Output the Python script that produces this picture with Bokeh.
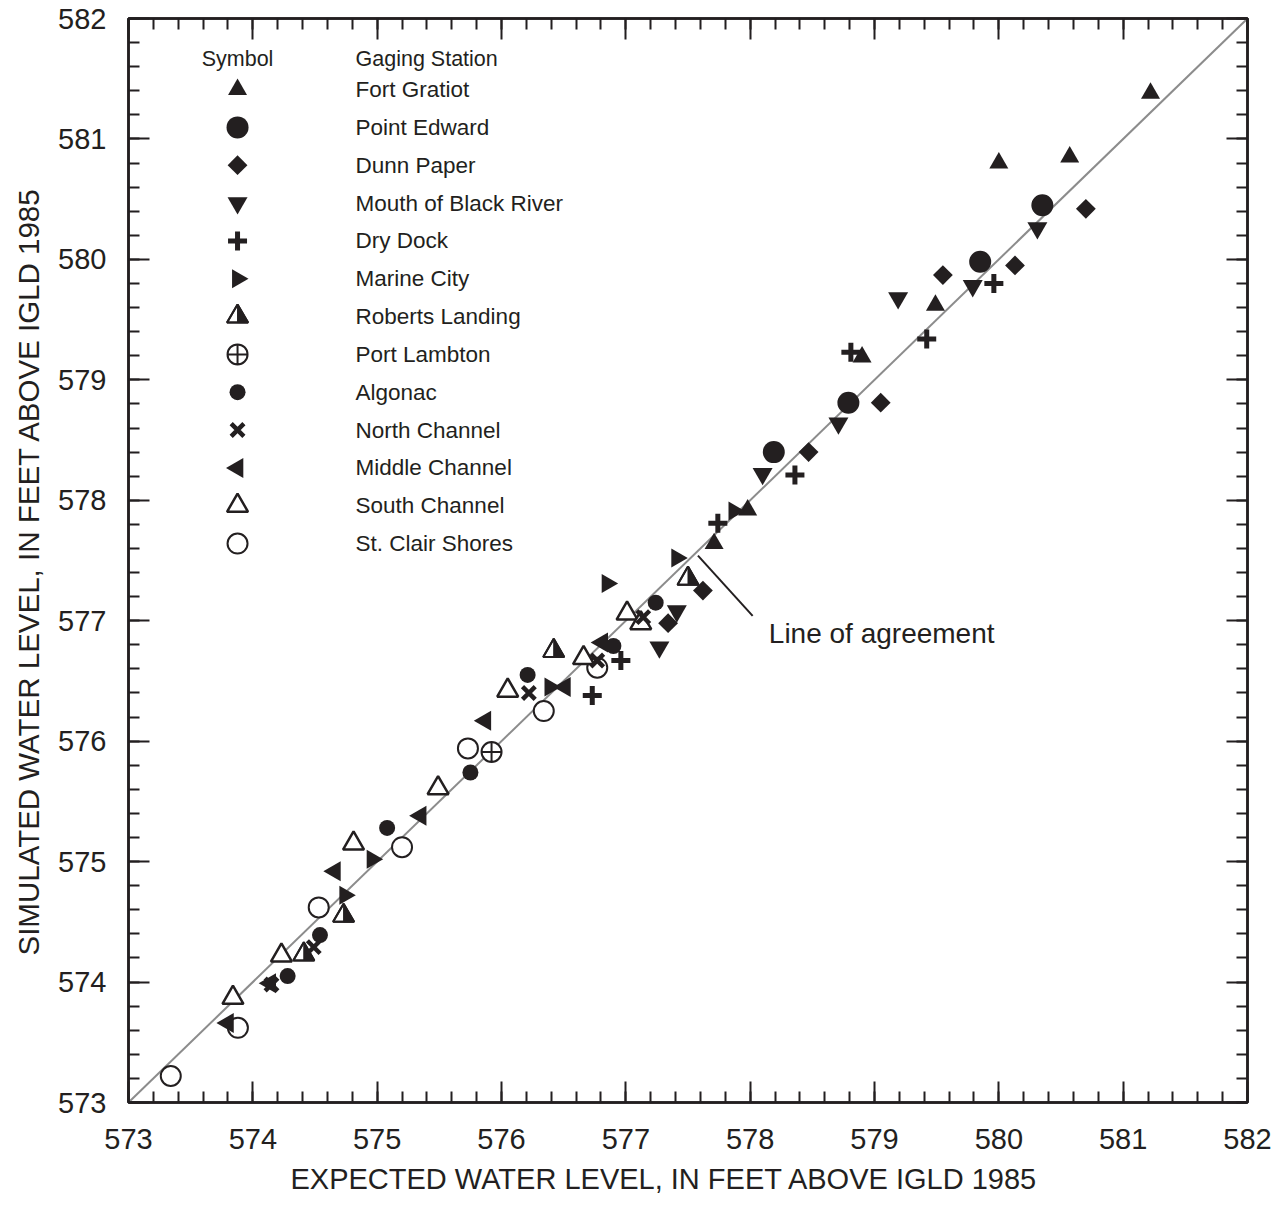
import math

from bokeh.core.properties import value
from bokeh.embed import file_html
from bokeh.models import (CustomJSTickFormatter, LinearAxis, Range1d,
                          SingleIntervalTicker, Title)
from bokeh.plotting import figure
from bokeh.resources import INLINE

# Expected vs simulated water levels (feet above IGLD 1985), one pair of lists per gaging station
fort_gratiot_x = [581.22, 580.00, 580.57, 579.49, 578.90, 577.98, 577.71]
fort_gratiot_y = [581.38, 580.80, 580.85, 579.62, 579.19, 577.92, 577.64]

point_edward_x = [580.35, 579.85, 578.79, 578.19]
point_edward_y = [580.45, 579.98, 578.81, 578.40]

dunn_paper_x = [580.70, 580.13, 579.55, 579.05, 578.47, 577.62, 577.34]
dunn_paper_y = [580.42, 579.95, 579.87, 578.81, 578.40, 577.25, 576.98]

black_river_x = [580.31, 579.79, 579.19, 578.71, 578.10, 577.41, 577.27]
black_river_y = [580.26, 579.78, 579.68, 578.64, 578.22, 577.08, 576.78]

dry_dock_x = [579.96, 579.42, 578.81, 578.36, 577.74, 576.96, 576.73]
dry_dock_y = [579.80, 579.34, 579.23, 578.21, 577.81, 576.67, 576.38]

marine_city_x = [577.87, 577.41, 576.85, 576.39, 574.96, 574.74]
marine_city_y = [577.91, 577.52, 577.31, 576.45, 575.02, 574.72]

roberts_landing_x = [577.50, 576.42, 574.73, 574.41]
roberts_landing_y = [577.35, 576.75, 574.55, 574.23]

port_lambton_x = [575.92]
port_lambton_y = [575.91]

algonac_x = [577.24, 576.90, 576.21, 575.75, 575.08, 574.54, 574.28]
algonac_y = [577.15, 576.79, 576.55, 575.74, 575.28, 574.39, 574.05]

north_channel_x = [576.22, 576.77, 577.14, 574.49, 574.15]
north_channel_y = [576.40, 576.67, 577.03, 574.29, 573.98]

middle_channel_x = [575.87, 576.51, 575.35, 574.66, 574.14, 573.80, 576.81]
middle_channel_y = [576.17, 576.45, 575.38, 574.92, 573.99, 573.66, 576.82]

south_channel_x = [573.84, 574.23, 574.81, 575.49, 576.05, 576.66, 577.01, 577.12]
south_channel_y = [573.87, 574.22, 575.15, 575.61, 576.42, 576.69, 577.06, 576.98]

st_clair_x = [573.34, 573.88, 574.53, 575.20, 575.73, 576.34, 576.77]
st_clair_y = [573.22, 573.62, 574.62, 575.12, 575.94, 576.25, 576.61]

station_names = [
    "Fort Gratiot", "Point Edward", "Dunn Paper", "Mouth of Black River",
    "Dry Dock", "Marine City", "Roberts Landing", "Port Lambton", "Algonac",
    "North Channel", "Middle Channel", "South Channel", "St. Clair Shores",
]
station_data = {
    "Fort Gratiot": (fort_gratiot_x, fort_gratiot_y),
    "Point Edward": (point_edward_x, point_edward_y),
    "Dunn Paper": (dunn_paper_x, dunn_paper_y),
    "Mouth of Black River": (black_river_x, black_river_y),
    "Dry Dock": (dry_dock_x, dry_dock_y),
    "Marine City": (marine_city_x, marine_city_y),
    "Roberts Landing": (roberts_landing_x, roberts_landing_y),
    "Port Lambton": (port_lambton_x, port_lambton_y),
    "Algonac": (algonac_x, algonac_y),
    "North Channel": (north_channel_x, north_channel_y),
    "Middle Channel": (middle_channel_x, middle_channel_y),
    "South Channel": (south_channel_x, south_channel_y),
    "St. Clair Shores": (st_clair_x, st_clair_y),
}

INK = "#231f20"
FONT = "Liberation Sans"

# marker style per station: (marker, size, fill, line width, angle)
styles = {
    "Fort Gratiot": ("triangle", 19, INK, 0, 0.0),
    "Point Edward": ("circle", 22, INK, 0, 0.0),
    "Dunn Paper": ("square", 14, INK, 0, math.pi / 4),
    "Mouth of Black River": ("inverted_triangle", 20, INK, 0, 0.0),
    "Dry Dock": ("cross", 19, None, 5, 0.0),
    "Marine City": ("triangle", 19, INK, 0, -math.pi / 2),
    "Roberts Landing": ("triangle", 21, "white", 2, 0.0),
    "Port Lambton": ("circle_cross", 20, "white", 2, 0.0),
    "Algonac": ("circle", 16, INK, 0, 0.0),
    "North Channel": ("x", 18, None, 4.5, 0.0),
    "Middle Channel": ("triangle", 20, INK, 0, math.pi / 2),
    "South Channel": ("triangle", 21, "white", 2.5, 0.0),
    "St. Clair Shores": ("circle", 20, "white", 2, 0.0),
}

W, H = 1281, 1210
LEFT, RIGHT, TOP, BOTTOM = 128, 34, 18, 108
X0, X1, Y0, Y1 = 573, 582, 573, 582
px_per_x = (W - LEFT - RIGHT) / (X1 - X0)
px_per_y = (H - TOP - BOTTOM) / (Y1 - Y0)

p = figure(
    width=W, height=H,
    x_range=Range1d(X0, X1), y_range=Range1d(Y0, Y1),
    output_backend="svg", toolbar_location=None,
    min_border_left=LEFT, min_border_right=RIGHT,
    min_border_top=TOP, min_border_bottom=BOTTOM,
    background_fill_color="white", border_fill_color="white",
)
p.grid.visible = False
p.outline_line_color = INK
p.outline_line_width = 2.5


def style_axis(ax, labelled):
    ax.ticker = SingleIntervalTicker(interval=1, num_minor_ticks=5)
    ax.axis_line_color = INK
    ax.axis_line_width = 2.5
    ax.major_tick_line_color = INK
    ax.major_tick_line_width = 2
    ax.minor_tick_line_color = INK
    ax.minor_tick_line_width = 2
    ax.major_tick_in = 21
    ax.major_tick_out = 0
    ax.minor_tick_in = 11
    ax.minor_tick_out = 0
    ax.axis_label = None
    if labelled:
        ax.major_label_text_font = FONT
        ax.major_label_text_font_size = "29px"
        ax.major_label_text_color = INK
    else:
        ax.formatter = CustomJSTickFormatter(code="return ''")
        ax.major_label_text_font_size = "8px"
        ax.major_label_standoff = 0


style_axis(p.xaxis[0], True)
style_axis(p.yaxis[0], True)
p.xaxis.major_label_standoff = 26
p.yaxis.major_label_standoff = 22

top_axis = LinearAxis()
right_axis = LinearAxis()
style_axis(top_axis, False)
style_axis(right_axis, False)
p.add_layout(top_axis, "above")
p.add_layout(right_axis, "right")

# axis titles
p.add_layout(Title(
    text="EXPECTED WATER LEVEL, IN FEET ABOVE IGLD 1985", align="left",
    vertical_align="top", offset=162, standoff=23, text_font=FONT,
    text_font_size="29px", text_font_style="normal", text_color=INK), "below")
p.add_layout(Title(
    text="SIMULATED WATER LEVEL, IN FEET ABOVE IGLD 1985", align="left",
    vertical_align="middle", offset=147, standoff=20, text_font=FONT,
    text_font_size="29.5px", text_font_style="normal", text_color=INK), "left")

# 1:1 line of agreement
p.line([X0, X1], [Y0, Y1], line_color="#8c8c8c", line_width=2)


def draw_station(name, xs, ys):
    marker, size, fill, lw, angle = styles[name]
    if marker in ("cross", "x"):
        p.scatter(xs, ys, marker=marker, size=size, line_color=INK,
                  line_width=lw, angle=angle)
        return
    if lw == 0:
        p.scatter(xs, ys, marker=marker, size=size, fill_color=fill,
                  line_color=None, angle=angle)
        return
    p.scatter(xs, ys, marker=marker, size=size, fill_color=fill,
              line_color=INK, line_width=lw, angle=angle)
    if name == "Roberts Landing":
        # right half of each triangle filled solid
        r = size / 2
        h = r * math.sqrt(3)
        hx, hy = [], []
        for x, y in zip(xs, ys):
            hx.append([x, x + r / px_per_x, x])
            hy.append([y + (2 * h / 3) / px_per_y,
                       y - (h / 3) / px_per_y,
                       y - (h / 3) / px_per_y])
        p.patches(hx, hy, fill_color=INK, line_color=INK, line_width=1)
        p.scatter(xs, ys, marker=marker, size=size, fill_color=None,
                  line_color=INK, line_width=lw)


open_first = ["St. Clair Shores", "South Channel", "Port Lambton", "Roberts Landing"]
for name in open_first:
    draw_station(name, *station_data[name])
for name in station_names:
    if name not in open_first:
        draw_station(name, *station_data[name])

# key: symbol column and station-name column
LEG_SYM_X = 573.877
LEG_TXT_X = 574.826
LEG_TOP = 581.41
LEG_STEP = 0.3141
HEAD_Y = 581.66

for i, name in enumerate(station_names):
    draw_station(name, [LEG_SYM_X], [LEG_TOP - i * LEG_STEP])

legend_y = [LEG_TOP - i * LEG_STEP for i in range(len(station_names))]
p.text(x=[LEG_TXT_X] * len(station_names), y=legend_y, text=station_names,
       text_font=value(FONT), text_font_size="22.5px", text_color=INK,
       text_align="left", text_baseline="middle")
p.text(x=[LEG_SYM_X], y=[HEAD_Y], text=["Symbol"],
       text_font=value(FONT), text_font_size="21.5px", text_color=INK,
       text_align="center", text_baseline="middle")
p.text(x=[LEG_TXT_X], y=[HEAD_Y], text=["Gaging  Station"],
       text_font=value(FONT), text_font_size="21.5px", text_color=INK,
       text_align="left", text_baseline="middle")

# callout for the 1:1 line
p.line([577.58, 578.02], [577.54, 577.04], line_color=INK, line_width=2)
p.text(x=[578.15], y=[576.89], text=["Line of agreement"],
       text_font=value(FONT), text_font_size="28px", text_color=INK,
       text_align="left", text_baseline="middle")

open("out.html", "w").write(file_html(p, INLINE))
